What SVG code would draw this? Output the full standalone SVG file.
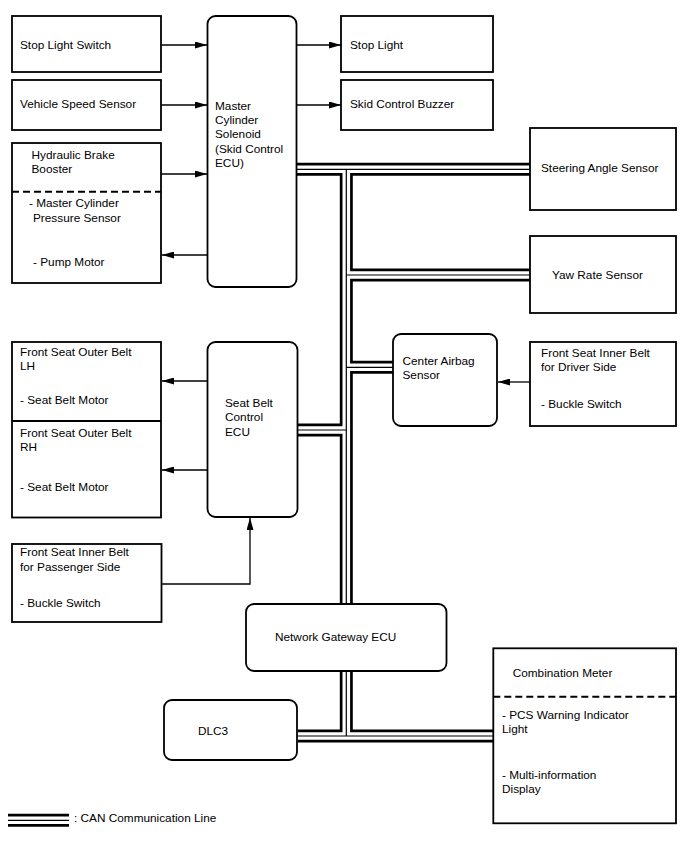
<svg xmlns="http://www.w3.org/2000/svg" width="688" height="852" viewBox="0 0 688 852">
<style>
text{font-family:"Liberation Sans",Arial,sans-serif;font-size:11.8px;fill:#000}
.box{fill:#fff;stroke:#000;stroke-width:1.8}
.dash{stroke:#000;stroke-width:2;stroke-dasharray:7 4;fill:none}
.arr{stroke:#000;stroke-width:1.3;fill:none;marker-end:url(#ah)}
.c1{fill:none;stroke:#000;stroke-width:13;stroke-linecap:butt}
.c2{fill:none;stroke:#fff;stroke-width:7.6;stroke-linecap:butt}
.c3{fill:none;stroke:#000;stroke-width:1.2;stroke-linecap:butt}
</style>
<defs>
<marker id="ah" markerUnits="userSpaceOnUse" markerWidth="12" markerHeight="7" refX="12" refY="3.5" orient="auto"><path d="M0,0 L12,3.5 L0,7 z" fill="#000"/></marker>
<path id="bus" d="M297,169.3 H530 M346.3,169.3 V736 M346.3,275 H530 M346.3,367.3 H393 M297,430 H346.3 M298,736 H493"/>
<path id="leg" d="M8,820.3 H69"/>
</defs>
<g id="connectors">
<use href="#bus" class="c1"/><use href="#bus" class="c2"/><use href="#bus" class="c3"/>
<path class="arr" d="M161,45 H207"/>
<path class="arr" d="M161,105 H207"/>
<path class="arr" d="M297,45 H341"/>
<path class="arr" d="M297,105 H341"/>
<path class="arr" d="M161,174 H207"/>
<path class="arr" d="M207,255 H162"/>
<path class="arr" d="M207,381 H162"/>
<path class="arr" d="M207,470 H162"/>
<path class="arr" d="M161,584 H250 V518"/>
<path class="arr" d="M530,382 H498"/>
</g>
<g id="stop-light-switch"><rect class="box" x="12" y="16" width="149" height="56"/><text x="20" y="49">Stop Light Switch</text></g>
<g id="vehicle-speed-sensor"><rect class="box" x="12" y="80" width="149" height="50"/><text x="20" y="108">Vehicle Speed Sensor</text></g>
<g id="hydraulic-brake-booster"><rect class="box" x="12" y="143" width="149" height="140"/>
<text x="31.5" y="159">Hydraulic Brake</text><text x="31.5" y="173">Booster</text>
<path class="dash" d="M12,191.7 H161"/>
<text x="29" y="207">- Master Cylinder</text><text x="33" y="222">Pressure Sensor</text>
<text x="33" y="266">- Pump Motor</text></g>
<g id="skid-control-ecu"><rect class="box" x="207.5" y="16" width="89" height="271" rx="8"/>
<text x="215" y="109.7">Master</text><text x="215" y="124">Cylinder</text><text x="215" y="138.3">Solenoid</text><text x="215" y="152.7">(Skid Control</text><text x="215" y="166.5">ECU)</text></g>
<g id="stop-light"><rect class="box" x="341" y="16" width="152" height="56"/><text x="350" y="49">Stop Light</text></g>
<g id="skid-control-buzzer"><rect class="box" x="341" y="80" width="152" height="50"/><text x="350" y="108">Skid Control Buzzer</text></g>
<g id="steering-angle-sensor"><rect class="box" x="530" y="128" width="146" height="82"/><text x="541" y="172">Steering Angle Sensor</text></g>
<g id="yaw-rate-sensor"><rect class="box" x="530" y="236" width="146" height="77"/><text x="552" y="279">Yaw Rate Sensor</text></g>
<g id="center-airbag-sensor"><rect class="box" x="393" y="334" width="104" height="92" rx="8"/><text x="402.5" y="365">Center Airbag</text><text x="402.5" y="378.5">Sensor</text></g>
<g id="driver-inner-belt"><rect class="box" x="530" y="342" width="146" height="84"/><text x="541" y="357">Front Seat Inner Belt</text><text x="541" y="371">for Driver Side</text><text x="541" y="408">- Buckle Switch</text></g>
<g id="outer-belt"><rect class="box" x="12" y="342" width="149" height="175.5"/><path d="M12,421 H161" stroke="#000" stroke-width="1.8"/>
<text x="20" y="356">Front Seat Outer Belt</text><text x="20" y="370">LH</text><text x="20" y="404">- Seat Belt Motor</text>
<text x="20" y="437">Front Seat Outer Belt</text><text x="20" y="451">RH</text><text x="20" y="491">- Seat Belt Motor</text></g>
<g id="seat-belt-control-ecu"><rect class="box" x="207.5" y="342" width="90" height="175" rx="8"/><text x="225" y="407">Seat Belt</text><text x="225" y="421">Control</text><text x="225" y="436">ECU</text></g>
<g id="passenger-inner-belt"><rect class="box" x="12" y="544" width="149.5" height="78"/><text x="20" y="556">Front Seat Inner Belt</text><text x="20" y="571">for Passenger Side</text><text x="20" y="607">- Buckle Switch</text></g>
<g id="network-gateway-ecu"><rect class="box" x="246" y="604" width="200.5" height="67" rx="8"/><text x="275" y="640.5">Network Gateway ECU</text></g>
<g id="dlc3"><rect class="box" x="164" y="700" width="133" height="60" rx="8"/><text x="198" y="735">DLC3</text></g>
<g id="combination-meter"><rect class="box" x="493.3" y="648.3" width="182.7" height="175"/>
<text x="512.7" y="677">Combination Meter</text><path class="dash" d="M493.3,696.7 H676"/>
<text x="502" y="718.5">- PCS Warning Indicator</text><text x="502" y="733">Light</text>
<text x="502" y="779">- Multi-information</text><text x="502" y="793">Display</text></g>
<g id="legend"><use href="#leg" class="c1"/><use href="#leg" class="c2"/><use href="#leg" class="c3"/><text x="74" y="822">: CAN Communication Line</text></g>
</svg>
